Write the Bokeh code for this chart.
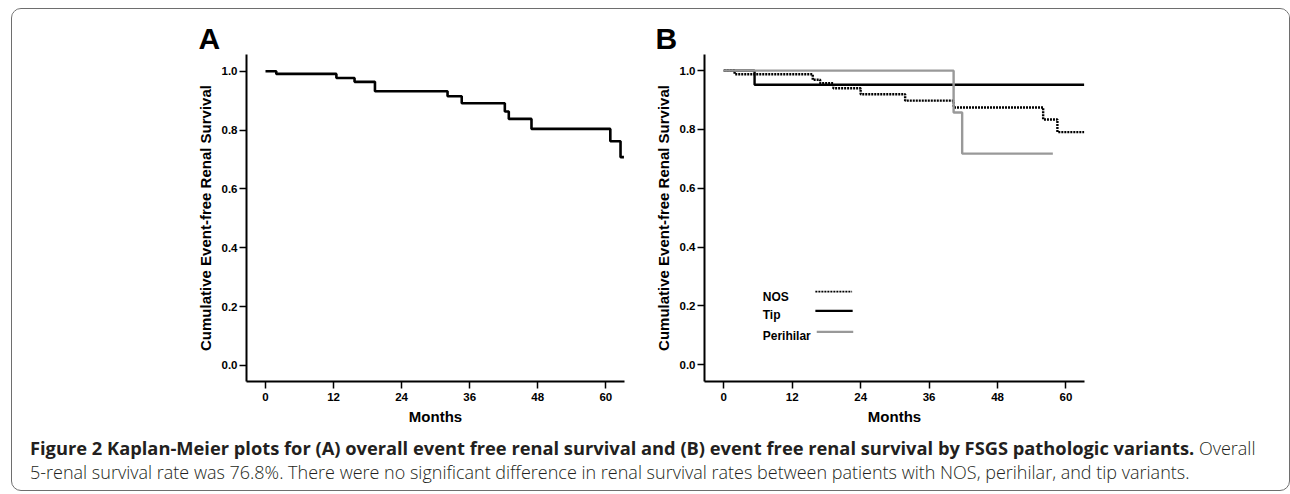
from bokeh.plotting import figure
from bokeh.layouts import row, column
from bokeh.models import Range1d, FixedTicker, Title, Div, NumeralTickFormatter
from bokeh.core.properties import value
from bokeh.embed import file_html
from bokeh.resources import INLINE

# ---------------- data ----------------
month_ticks = [0, 12, 24, 36, 48, 60]
surv_ticks = [0.0, 0.2, 0.4, 0.6, 0.8, 1.0]

# Panel A: overall event-free renal survival
a_time = [0, 1.9, 12.5, 15.7, 19.3, 32.1, 34.6, 42.2, 42.9, 46.9, 60.8, 62.6, 63.2]
a_surv = [1.0, 0.991, 0.977, 0.964, 0.932, 0.915, 0.891, 0.863, 0.838, 0.804, 0.762, 0.708, 0.708]

# Panel B: by FSGS pathologic variant
nos_time = [0, 1.9, 15.6, 16.9, 19.2, 24.0, 31.8, 40.3, 56.0, 58.5, 63.2]
nos_surv = [1.0, 0.988, 0.969, 0.957, 0.940, 0.920, 0.898, 0.875, 0.834, 0.791, 0.791]
tip_time = [0, 5.4, 63.2]
tip_surv = [1.0, 0.952, 0.952]
peri_time = [0, 40.3, 41.8, 57.7]
peri_surv = [1.0, 0.858, 0.718, 0.718]

legend_names = ["NOS", "Tip", "Perihilar"]

FONT = "Liberation Sans"
GRAY = "#999999"


def make_fig(width, b_left, b_right, b_top, xr, yr, letter, letter_offset):
    p = figure(width=width, height=421, output_backend="svg", toolbar_location=None,
               x_range=Range1d(*xr), y_range=Range1d(*yr),
               min_border_left=b_left, min_border_right=b_right,
               min_border_top=b_top, min_border_bottom=49)
    p.title = Title(text=letter, align="left", offset=letter_offset, standoff=0,
                    text_font=FONT, text_font_style="bold", text_font_size="30px",
                    text_color="black")
    p.outline_line_color = None
    p.grid.visible = False
    p.background_fill_color = "white"
    p.border_fill_color = "white"
    for ax in (p.xaxis[0], p.yaxis[0]):
        ax.axis_line_width = 2
        ax.axis_line_color = "black"
        ax.major_tick_line_width = 1.5
        ax.major_tick_line_color = "black"
        ax.major_tick_in = 0
        ax.major_tick_out = 7
        ax.minor_tick_line_color = None
        ax.major_label_text_font = FONT
        ax.major_label_text_font_style = "bold"
        ax.major_label_text_font_size = "11.5px"
        ax.major_label_text_color = "black"
        ax.axis_label_text_font = FONT
        ax.axis_label_text_font_style = "bold"
        ax.axis_label_text_color = "black"
    p.xaxis.ticker = FixedTicker(ticks=month_ticks)
    p.yaxis.ticker = FixedTicker(ticks=surv_ticks)
    p.yaxis.formatter = NumeralTickFormatter(format="0.0")
    p.xaxis.axis_label = "Months"
    p.xaxis.axis_label_text_font_size = "15px"
    p.yaxis.axis_label = "Cumulative Event-free Renal Survival"
    p.yaxis.axis_label_text_font_size = "15px"
    p.xaxis.major_label_standoff = 4
    p.xaxis.axis_label_standoff = 4
    p.yaxis.major_label_standoff = 2
    p.yaxis.axis_label_standoff = 5
    return p


# ---- Panel A ----
pA = make_fig(628, 234, 16, 45, (-3.35, 63.3), (-0.055, 1.057), "A", -48)
pA.step(a_time, a_surv, mode="after", line_color="black", line_width=2.6)

# ---- Panel B ----
pB = make_fig(649, 64, 205, 44, (-3.38, 63.25), (-0.057, 1.055), "B", -49)
pB.step(nos_time, nos_surv, mode="after", line_color="black", line_width=2.4,
        line_dash="2 1")
pB.step(tip_time, tip_surv, mode="after", line_color="black", line_width=2.4)
pB.step(peri_time, peri_surv, mode="after", line_color=GRAY, line_width=2.4)

# legend drawn manually (label first, then line sample)
leg_text_y = [0.2305, 0.168, 0.0983]
leg_line_y = [0.2485, 0.183, 0.1119]
pB.text(x=[6.83] * 3, y=leg_text_y, text=legend_names, text_font=value(FONT),
        text_font_style="bold", text_font_size="12px", text_baseline="alphabetic",
        text_color="black")
pB.segment(x0=[16.06], y0=[leg_line_y[0]], x1=[22.5], y1=[leg_line_y[0]],
           line_color="black", line_width=1.6, line_dash="2 1")
pB.segment(x0=[16.06], y0=[leg_line_y[1]], x1=[22.6], y1=[leg_line_y[1]],
           line_color="black", line_width=2.2)
pB.segment(x0=[16.3], y0=[leg_line_y[2]], x1=[22.7], y1=[leg_line_y[2]],
           line_color=GRAY, line_width=2.2)

caption = Div(
    text=('<div style="font-family:\'Open Sans\'; font-size:18px; line-height:24px; color:#231f20; '
          'white-space:nowrap; padding:1px 0 0 13px;">'
          '<b style="font-size:18.3px">Figure 2 Kaplan-Meier plots for (A) overall event free renal survival and (B) '
          'event free renal survival by FSGS pathologic variants.</b> '
          '<span style="font-weight:300">Overall<br>5-renal survival rate was 76.8%. There were '
          'no significant difference in renal survival rates between patients with NOS, '
          'perihilar, and tip variants.</span></div>'),
    width=1277, height=58)

layout = column(row(pA, pB), caption,
                styles={"border": "1px solid #6e6e6e", "border-radius": "10px",
                        "margin-left": "11px", "margin-top": "8px",
                        "width": "1279px", "height": "483px",
                        "box-sizing": "border-box", "overflow": "hidden",
                        "background-color": "white"})

open("out.html", "w").write(file_html(layout, INLINE))
